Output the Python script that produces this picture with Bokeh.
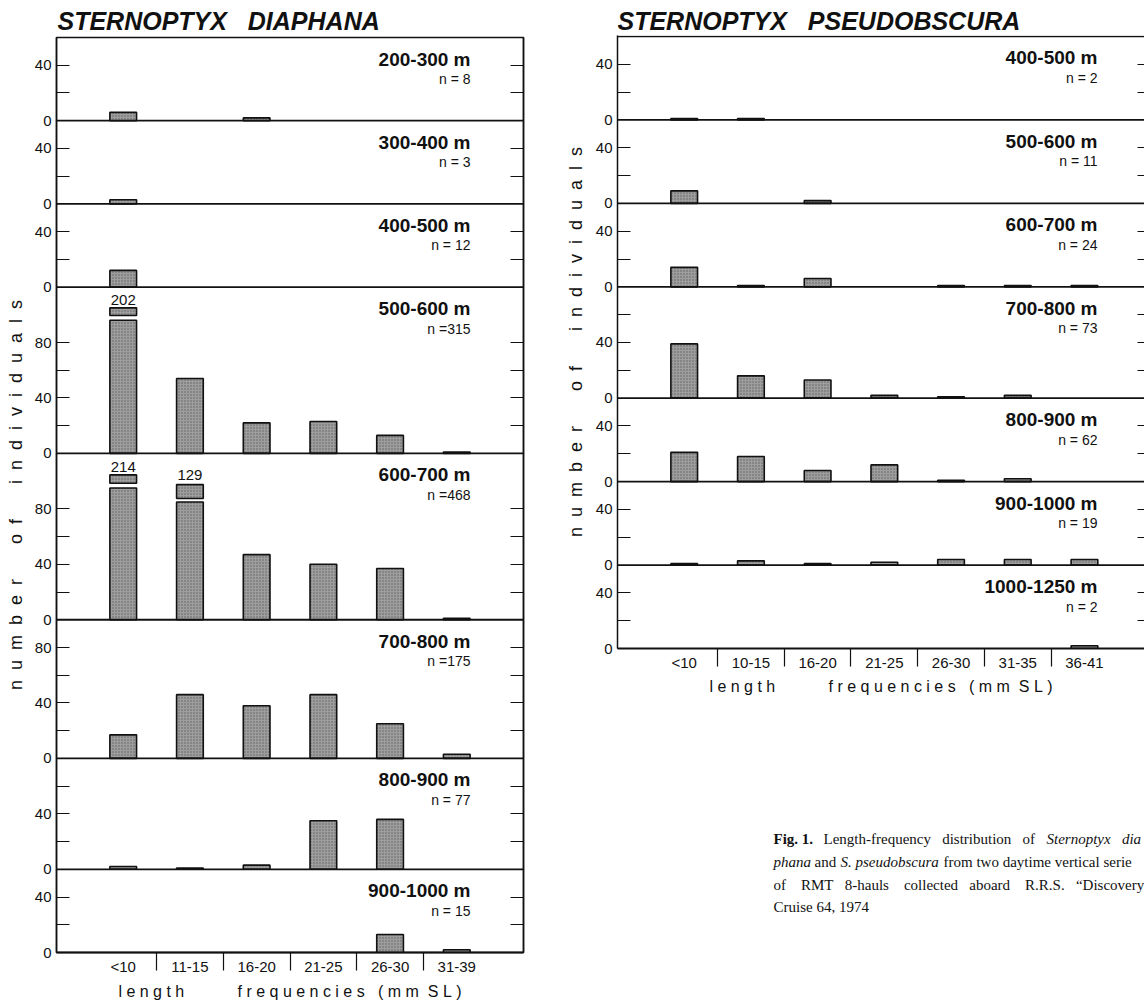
from bokeh.plotting import figure
from bokeh.models import FixedTicker, Span, Label, Range1d, LinearAxis, ColumnDataSource
from bokeh.layouts import row, column
from bokeh.transform import dodge
from bokeh.embed import file_html
from bokeh.resources import INLINE
from bokeh.core.properties import value

# ---------------- data: Sternoptyx diaphana ----------------
diaphana_cats = ["<10", "11-15", "16-20", "21-25", "26-30", "31-39"]
diaphana_depths = ["200-300 m", "300-400 m", "400-500 m", "500-600 m",
                   "600-700 m", "700-800 m", "800-900 m", "900-1000 m"]
diaphana_n = [8, 3, 12, 315, 468, 175, 77, 15]
d_200_300 = [6, 0, 2, 0, 0, 0]
d_300_400 = [3, 0, 0, 0, 0, 0]
d_400_500 = [12, 0, 0, 0, 0, 0]
d_500_600 = [202, 54, 22, 23, 13, 1]
d_600_700 = [214, 129, 47, 40, 37, 1]
d_700_800 = [17, 46, 38, 46, 25, 3]
d_800_900 = [2, 1, 3, 35, 36, 0]
d_900_1000 = [0, 0, 0, 0, 13, 2]
diaphana_vals = [d_200_300, d_300_400, d_400_500, d_500_600,
                 d_600_700, d_700_800, d_800_900, d_900_1000]
diaphana_ymax = [60, 60, 60, 120, 120, 100, 80, 60]

# ---------------- data: Sternoptyx pseudobscura ----------------
pseudo_cats = ["<10", "10-15", "16-20", "21-25", "26-30", "31-35", "36-41"]
pseudo_depths = ["400-500 m", "500-600 m", "600-700 m", "700-800 m",
                 "800-900 m", "900-1000 m", "1000-1250 m"]
pseudo_n = [2, 11, 24, 73, 62, 19, 2]
p_400_500 = [1, 1, 0, 0, 0, 0, 0]
p_500_600 = [9, 0, 2, 0, 0, 0, 0]
p_600_700 = [14, 1, 6, 0, 1, 1, 1]
p_700_800 = [39, 16, 13, 2, 1, 2, 0]
p_800_900 = [21, 18, 8, 12, 1, 2, 0]
p_900_1000 = [1, 3, 1, 2, 4, 4, 4]
p_1000_1250 = [0, 0, 0, 0, 0, 0, 2]
pseudo_vals = [p_400_500, p_500_600, p_600_700, p_700_800,
               p_800_900, p_900_1000, p_1000_1250]
pseudo_ymax = [60, 60, 60, 80, 60, 60, 60]

# broken (truncated) bars of S. diaphana: drawing style only
BREAKS = {
    ("diaphana", "500-600 m", "<10"): dict(bar_top=96, box=(99.5, 105), label_y=111),
    ("diaphana", "600-700 m", "<10"): dict(bar_top=95, box=(98.5, 104.5), label_y=110.5),
    ("diaphana", "600-700 m", "11-15"): dict(bar_top=85, box=(87.5, 97.5), label_y=104.5),
}

# ---------------- styling / layout ----------------
NB = "\u00a0"
SANS = "Liberation Sans"
SERIF = "Liberation Serif"
INK = "#111111"
BAR_FILL = "#9e9e9e"
PAGE_W = 1144
PAGE_H = 1002

GEOM_L = dict(species="diaphana", width=550, bl=56, br=27, x0=-1, x1=6,
              header_h=36, frame_top=37, zero=954, top_pad=0, rtick=13, outline=True,
              txt_dx=-53, ylab_st=6, xlab_st=5, bottom_border=48, title_x=1)
GEOM_R = dict(species="pseudobscura", width=594, bl=67, br=0, x0=-1, x1=6.9,
              header_h=35, frame_top=35, zero=648, top_pad=0.7, rtick=7, outline=False,
              txt_dx=-47, ylab_st=7, xlab_st=4, bottom_border=52, title_x=0)


def letter_spaced(words, inner, gaps):
    out = (NB * inner).join(words[0])
    for w, gap in zip(words[1:], gaps):
        out += NB * gap + (NB * inner).join(w)
    return out


XLAB = letter_spaced(["length", "frequencies", "(mm", "SL)"], 1, [12, 3, 2])
YLAB = letter_spaced(["number", "of", "individuals"], 2, [7, 7])


def n_text(n):
    return f"n = {n}" if n < 100 else f"n ={n}"


def make_chart(cats, depths, vals_list, ymaxs, ns, g):
    total = sum(ymaxs)
    offsets = [sum(ymaxs[k + 1:]) for k in range(len(ymaxs))]
    frame_h = g["zero"] - g["frame_top"]
    bt = g["frame_top"] - g["header_h"]
    p = figure(width=g["width"], height=bt + frame_h + g["bottom_border"],
               x_range=Range1d(g["x0"], g["x1"]), y_range=Range1d(0, total + g["top_pad"]),
               output_backend="svg", toolbar_location=None,
               min_border_left=g["bl"], min_border_right=g["br"],
               min_border_top=bt, min_border_bottom=g["bottom_border"])
    p.grid.visible = False
    if g["outline"]:
        p.outline_line_color = INK
        p.outline_line_width = 1.5
    else:
        p.outline_line_color = None
        p.add_layout(Span(location=total, dimension="width", line_color=INK, line_width=1.5))

    ticks, labels = [], {}
    for off, ymax in zip(offsets, ymaxs):
        for t in range(0, min(ymax, 100), 20):
            ticks.append(off + t)
            labels[off + t] = str(t) if t % 40 == 0 else ""
    ya = p.yaxis[0]
    ya.ticker = FixedTicker(ticks=ticks)
    ya.major_label_overrides = labels
    ya.major_tick_in = 13
    ya.major_tick_out = 0
    ya.minor_tick_in = 0
    ya.minor_tick_out = 0
    ya.axis_line_color = INK
    ya.axis_line_width = 1.5
    ya.major_tick_line_color = INK
    ya.major_tick_line_width = 1.2
    ya.major_label_standoff = 5
    ya.major_label_text_font = SANS
    ya.major_label_text_font_size = "15px"
    ya.major_label_text_color = INK
    ya.axis_label = YLAB
    ya.axis_label_standoff = g["ylab_st"]
    ya.axis_label_text_font = SANS
    ya.axis_label_text_font_style = "normal"
    ya.axis_label_text_font_size = "18px"
    ya.axis_label_text_color = INK

    ra = LinearAxis(ticker=FixedTicker(ticks=ticks), major_tick_in=g["rtick"],
                    major_tick_out=0, minor_tick_in=0, minor_tick_out=0,
                    major_label_text_font_size="0px", major_label_standoff=0,
                    axis_line_color=INK if g["outline"] else None, axis_line_width=1.5,
                    major_tick_line_color=INK, major_tick_line_width=1.2)
    ra.major_label_overrides = {t: "" for t in ticks}
    p.add_layout(ra, "right")

    xa = p.xaxis[0]
    nc = len(cats)
    xa.ticker = FixedTicker(ticks=list(range(nc)),
                            minor_ticks=[i + 0.5 for i in range(nc - 1)])
    xa.major_label_overrides = {i: c for i, c in enumerate(cats)}
    xa.major_tick_in = 0
    xa.major_tick_out = 0
    xa.minor_tick_in = 0
    xa.minor_tick_out = 18
    xa.minor_tick_line_color = INK
    xa.minor_tick_line_width = 1.2
    xa.axis_line_color = INK
    xa.axis_line_width = 1.8
    xa.major_label_standoff = -13
    xa.major_label_text_font = SANS
    xa.major_label_text_font_size = "15px"
    xa.major_label_text_color = INK
    xa.axis_label = XLAB
    xa.axis_label_standoff = g["xlab_st"]
    xa.axis_label_text_font = SANS
    xa.axis_label_text_font_style = "normal"
    xa.axis_label_text_font_size = "16px"
    xa.axis_label_text_color = INK

    bar_kw = dict(width=0.4, fill_color=BAR_FILL, line_color=INK, line_width=1.6,
                  hatch_pattern="dot", hatch_scale=3, hatch_weight=1,
                  hatch_color="#333333", hatch_alpha=0.6)

    for k, (depth, vals, ymax, n, off) in enumerate(zip(depths, vals_list, ymaxs, ns, offsets)):
        if k > 0:
            p.add_layout(Span(location=off + ymax, dimension="width",
                              line_color=INK, line_width=1.8))
        xs, counts = [], []
        bx, b0, b1, ly, lt = [], [], [], [], []
        for i, v in enumerate(vals):
            if v <= 0:
                continue
            key = (g["species"], depth, cats[i])
            if key in BREAKS:
                b = BREAKS[key]
                xs.append(i); counts.append(b["bar_top"])
                bx.append(i); b0.append(b["box"][0]); b1.append(b["box"][1])
                ly.append(b["label_y"]); lt.append(str(v))
            else:
                xs.append(i); counts.append(v)
        src = ColumnDataSource(dict(x=xs, count=counts))
        p.vbar(x="x", top=dodge("count", off), bottom=off, source=src, **bar_kw)
        if bx:
            bsrc = ColumnDataSource(dict(x=bx, b0=b0, b1=b1, ly=ly, t=lt))
            p.vbar(x="x", top=dodge("b1", off), bottom=dodge("b0", off), source=bsrc, **bar_kw)
            p.text(x="x", y=dodge("ly", off), text="t", source=bsrc,
                   text_align="center", text_baseline="middle",
                   text_font=value(SANS), text_font_size="15px", text_color=INK)

        p.add_layout(Label(x=g["x1"], y=off + ymax, x_offset=g["txt_dx"], y_offset=-21.5,
                           text=depth, text_align="right", text_baseline="middle",
                           text_font=SANS, text_font_style="bold",
                           text_font_size="19px", text_color=INK))
        p.add_layout(Label(x=g["x1"], y=off + ymax, x_offset=g["txt_dx"], y_offset=-41.5,
                           text=n_text(n), text_align="right", text_baseline="middle",
                           text_font=SANS, text_font_size="14px", text_color=INK))
    return p


def blank_fig(g, height):
    fw = g["width"] - g["bl"] - g["br"]
    p = figure(width=g["width"], height=height, x_range=Range1d(0, fw),
               y_range=Range1d(0, height), min_border_left=g["bl"],
               min_border_right=g["br"], min_border_top=0, min_border_bottom=0,
               output_backend="svg", toolbar_location=None,
               x_axis_location=None, y_axis_location=None)
    p.outline_line_color = None
    p.grid.visible = False
    return p


def header_fig(g, text):
    h = g["header_h"]
    p = blank_fig(g, h)
    p.add_layout(Label(x=g["title_x"], y=h - 20.5, text=text, text_align="left",
                       text_baseline="middle", text_font=SANS,
                       text_font_style="bold italic", text_font_size="25px",
                       text_color=INK))
    return p


# ---------------- build ----------------
left = column(header_fig(GEOM_L, "STERNOPTYX" + NB * 3 + "DIAPHANA"),
              make_chart(diaphana_cats, diaphana_depths, diaphana_vals, diaphana_ymax,
                         diaphana_n, GEOM_L))

chart_r = make_chart(pseudo_cats, pseudo_depths, pseudo_vals, pseudo_ymax, pseudo_n, GEOM_R)
cap_top = GEOM_R["zero"] + GEOM_R["bottom_border"]
cap = blank_fig(GEOM_R, PAGE_H - cap_top)
frame_left_r = PAGE_W - (GEOM_R["width"] - GEOM_R["bl"] - GEOM_R["br"])

# figure legend, cropped at the right edge exactly as in the source scan
G3, G4 = NB * 3, NB * 4
CAP_LINES = [
    (838, [("Fig. 1.", "bold", 773),
           ("Length-frequency" + G3 + "distribution" + G3 + "of", "normal", 823),
           ("Sternoptyx" + G3 + "dia", "italic", 1046)]),
    (861, [("phana", "italic", 773), ("and", "normal", 814), ("S. pseudobscura", "italic", 840),
           ("from two daytime vertical serie", "normal", 943)]),
    (884, [("of" + G4 + "RMT" + G3 + "8-hauls" + G4 + "collected" + G3 + "aboard"
            + G4 + "R.R.S." + G3 + "\u201cDiscovery", "normal", 773)]),
    (906, [("Cruise 64, 1974", "normal", 773)]),
]
for ypage, segs in CAP_LINES:
    for txt, style, xpage in segs:
        cap.add_layout(Label(x=xpage - frame_left_r, y=PAGE_H - ypage, text=txt,
                             text_align="left", text_baseline="middle", text_font=SERIF,
                             text_font_style=style, text_font_size="15px", text_color=INK))

right = column(header_fig(GEOM_R, "STERNOPTYX" + NB * 3 + "PSEUDOBSCURA"), chart_r, cap)

layout = row(left, right)
open("out.html", "w").write(file_html(layout, INLINE))
